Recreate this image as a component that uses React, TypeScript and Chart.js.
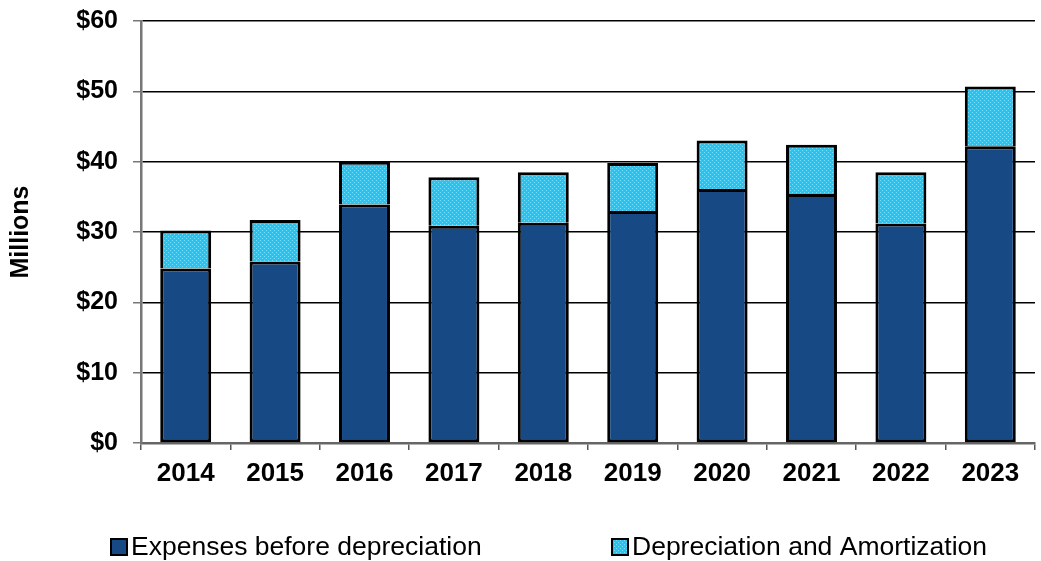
import React, { useEffect, useRef } from "react";
import { Chart, registerables } from "chart.js";

Chart.register(...registerables);

const years = ["2014", "2015", "2016", "2017", "2018", "2019", "2020", "2021", "2022", "2023"];
const expensesBeforeDep = [24.8, 25.8, 33.9, 30.9, 31.3, 33.0, 36.1, 35.4, 31.2, 42.2];
const depAndAmort = [5.4, 5.9, 6.1, 6.9, 7.2, 6.8, 6.9, 7.0, 7.3, 8.5];
const seriesNames = ["Expenses before depreciation", "Depreciation and Amortization"];
const yTickValues = [0, 10, 20, 30, 40, 50, 60];

const DARK = "#174a85";
const CYAN = "#22c6f4";
const FONT = "'Liberation Sans', Arial, sans-serif";

function makePattern(): CanvasPattern | string {
  const c = document.createElement("canvas");
  c.width = 4;
  c.height = 4;
  const ctx = c.getContext("2d");
  if (!ctx) return CYAN;
  ctx.fillStyle = CYAN;
  ctx.fillRect(0, 0, 4, 4);
  ctx.fillStyle = "#7fdcf7";
  ctx.fillRect(0, 0, 1, 1);
  ctx.fillRect(2, 2, 1, 1);
  const p = ctx.createPattern(c, "repeat");
  return p || CYAN;
}

const legendPlugin = {
  id: "customLegend",
  afterDraw(chart: any) {
    const ctx = chart.ctx;
    const items = [
      { x: 111, label: seriesNames[0], fill: DARK },
      { x: 612, label: seriesNames[1], fill: chart.data.datasets[1].backgroundColor },
    ];
    const cy = 547;
    ctx.save();
    ctx.font = "26.5px " + FONT;
    ctx.textBaseline = "middle";
    ctx.textAlign = "left";
    for (const it of items) {
      ctx.fillStyle = it.fill;
      ctx.fillRect(it.x, cy - 8, 16, 16);
      ctx.lineWidth = 2;
      ctx.strokeStyle = "#000";
      ctx.strokeRect(it.x, cy - 8, 16, 16);
      ctx.fillStyle = "#000";
      ctx.fillText(it.label, it.x + 20, cy + 1);
    }
    ctx.restore();
  },
};

export default function App() {
  const ref = useRef<HTMLCanvasElement>(null);
  useEffect(() => {
    if (!ref.current) return;
    const pattern = makePattern();
    const chart = new Chart(ref.current, {
      type: "bar",
      data: {
        labels: years,
        datasets: [
          {
            label: seriesNames[0],
            data: expensesBeforeDep,
            backgroundColor: DARK,
            borderColor: "#000",
            borderWidth: 3,
            borderSkipped: false,
          },
          {
            label: seriesNames[1],
            data: depAndAmort,
            backgroundColor: pattern as any,
            borderColor: "#000",
            borderWidth: 3,
            borderSkipped: "start",
          },
        ],
      },
      options: {
        animation: false,
        responsive: false,
        maintainAspectRatio: false,
        layout: { padding: { top: 21, right: 6, left: 0, bottom: 0 } },
        datasets: { bar: { categoryPercentage: 1, barPercentage: 0.57 } },
        plugins: { legend: { display: false }, tooltip: { enabled: false } },
        scales: {
          x: {
            stacked: true,
            afterFit: (s: any) => {
              s.height = 118;
            },
            grid: {
              display: true,
              offset: true,
              drawOnChartArea: false,
              drawTicks: true,
              tickLength: 7,
              tickColor: "#555",
              lineWidth: 1.5,
            },
            border: { display: true, color: "#666", width: 2.5 },
            ticks: {
              color: "#000",
              padding: 8,
              font: { family: FONT, size: 26, weight: "bold" },
            },
          },
          y: {
            stacked: true,
            min: 0,
            max: 60,
            afterFit: (s: any) => {
              s.width = 141;
              s.paddingTop = 0;
              s.paddingBottom = 0;
            },
            afterBuildTicks: (s: any) => {
              s.ticks = yTickValues.map((v) => ({ value: v }));
            },
            grid: {
              color: "#000",
              lineWidth: 1.5,
              drawTicks: true,
              tickLength: 8,
              tickColor: "#777",
            },
            border: { display: true, color: "#777", width: 2.5 },
            ticks: {
              color: "#000",
              padding: 15,
              font: { family: FONT, size: 25, weight: "bold" },
              callback: (v: any) => "$" + v,
            },
            title: {
              display: true,
              text: "Millions",
              color: "#000",
              padding: { top: 6, bottom: 0 },
              font: { family: FONT, size: 25, weight: "bold" },
            },
          },
        },
      },
      plugins: [legendPlugin],
    });
    return () => chart.destroy();
  }, []);
  return (
    <div style={{ position: "absolute", left: 0, top: 0, width: 1041, height: 561, background: "#fff" }}>
      <canvas ref={ref} width={1041} height={561} style={{ display: "block" }} />
    </div>
  );
}
